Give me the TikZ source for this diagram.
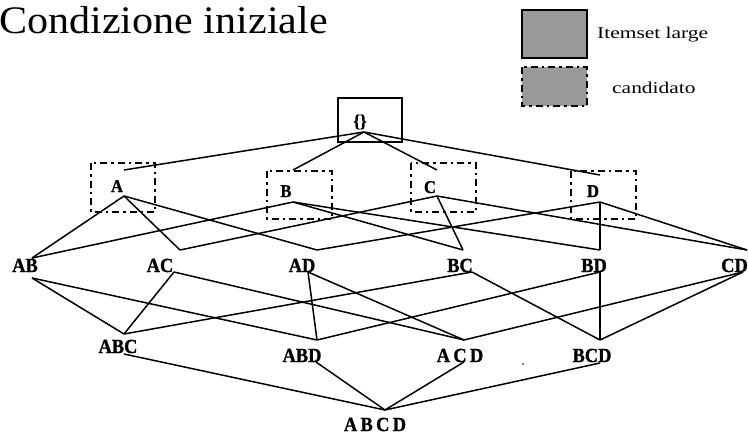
\documentclass[tikz,border=0pt]{standalone}
\usepackage{fontspec}
\setmainfont{Liberation Serif}
\newfontfamily\titlefont[FakeStretch=1.08]{Liberation Serif}
\newfontfamily\legendfont[FakeStretch=1.3]{Liberation Serif}
\newfontfamily\itemfont[FakeStretch=0.92,FakeBold=1.2]{Liberation Serif}
\usetikzlibrary{calc}

\tikzset{
  edge/.style={line width=1.5pt},
  large/.style={line width=1.6pt},
  cand/.style={line width=2.6pt, dash pattern=on 7pt off 4pt on 2.5pt off 4pt},
  itemlab/.style={inner sep=0pt, anchor=base, font=\itemfont\fontsize{20}{20}\selectfont\bfseries},
  singlab/.style={inner sep=0pt, anchor=base, font=\itemfont\fontsize{18}{18}\selectfont\bfseries},
}

\begin{document}
\begin{tikzpicture}[x=1pt,y=-1pt]
        \useasboundingbox (0,0) rectangle (748,434);

        % Title
        \node[anchor=base west, inner sep=0pt, font=\titlefont\fontsize{39}{39}\selectfont] (title) at (-1,33) {Condizione iniziale};

        % Legend
        \filldraw[large, fill=black!40] (522,10) rectangle (587,58);
        \node[anchor=base west, inner sep=0pt, font=\legendfont\fontsize{16.5}{16.5}\selectfont] (leglarge) at (597,38) {Itemset large};
        \fill[black!40] (522,67) rectangle (587,106);
        \draw[cand] (522,67) rectangle (587,106);
        \node[anchor=base west, inner sep=0pt, font=\legendfont\fontsize{16.5}{16.5}\selectfont] (legcand) at (612,93) {candidato};

        % Empty set
        \draw[large] (338,98) rectangle (402,142);
        \node[singlab] (root) at (360,127) {\{\}};
        \coordinate (root-b) at (364,132);

        % Single items (candidates)
        \draw[cand] (91,163) rectangle (155,212);
        \draw[cand] (267,171) rectangle (332,219);
        \draw[cand] (411,163) rectangle (476,212);
        \draw[cand] (571,171) rectangle (636,219);
        \node[singlab] (A) at (117,192) {A};
        \node[singlab] (B) at (286,197) {B};
        \node[singlab] (C) at (430,193) {C};
        \node[singlab] (D) at (593,197) {D};
        \coordinate (A-t) at (124,170);  \coordinate (A-b) at (124,196);
        \coordinate (B-t) at (293,170);  \coordinate (B-b) at (293,202);
        \coordinate (C-t) at (437,170);  \coordinate (C-b) at (437,196);
        \coordinate (D-t) at (600,175);  \coordinate (D-b) at (600,202);

        % Pairs
        \node[itemlab] (AB) at (25,272) {AB};
        \node[itemlab] (AC) at (160,272) {AC};
        \node[itemlab] (AD) at (302,272) {AD};
        \node[itemlab] (BC) at (460,272) {BC};
        \node[itemlab] (BD) at (594,272) {BD};
        \node[itemlab, anchor=base east] (CD) at (748,272) {CD};
        \coordinate (AB-t) at (32,258);  \coordinate (AB-b) at (32,278);
        \coordinate (AC-t) at (180,250); \coordinate (AC-b) at (174,272);
        \coordinate (AD-t) at (317,250); \coordinate (AD-b) at (308,272);
        \coordinate (BC-t) at (463,250); \coordinate (BC-b) at (472,272);
        \coordinate (BD-t) at (600,250); \coordinate (BD-b) at (600,272);
        \coordinate (CD-t) at (747,250); \coordinate (CD-b) at (743,272);

        % Triples
        \node[itemlab] (ABC) at (118,353) {ABC};
        \node[itemlab] (ABD) at (302,362) {ABD};
        \node[itemlab] (ACD) at (460,362) {A\,C\,D};
        \node[itemlab] (BCD) at (592,362) {BCD};
        \coordinate (ABC-t) at (124,334); \coordinate (ABC-b) at (124,354);
        \coordinate (ABD-t) at (317,340); \coordinate (ABD-b) at (316,362);
        \coordinate (ACD-t) at (464,340); \coordinate (ACD-b) at (464,362);
        \coordinate (BCD-t) at (600,340); \coordinate (BCD-b) at (600,363);
        \fill (523,364) circle (0.9);

        % Full set
        \node[itemlab] (ABCD) at (375,431) {A\,B\,C\,D};
        \coordinate (ABCD-t) at (385,410);

        % Lattice edges
        \foreach \u/\v in {root/A, root/B, root/C, root/D,
                A/AB, A/AC, A/AD, B/AB, B/BC, B/BD,
                C/AC, C/BC, C/CD, D/AD, D/BD, D/CD,
                AB/ABC, AB/ABD, AC/ABC, AC/ACD, AD/ABD, AD/ACD,
                BC/ABC, BC/BCD, BD/ABD, BD/BCD, CD/ACD, CD/BCD,
                ABC/ABCD, ABD/ABCD, ACD/ABCD, BCD/ABCD}
            \draw[edge] (\u-b) -- (\v-t);
    \end{tikzpicture}
\end{document}
